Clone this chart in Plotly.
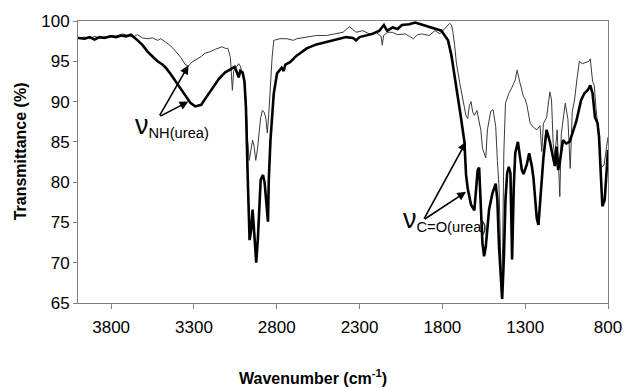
import plotly.graph_objects as go

# ---- data: thick trace (sample 1) ----
wn_thick = [4000, 3960, 3930, 3900, 3870, 3840, 3800, 3770, 3740, 3710, 3680, 3660, 3640, 3610,
            3580, 3550, 3520, 3490, 3470, 3440, 3411, 3380, 3351, 3320, 3292, 3256, 3230, 3196,
            3150, 3113, 3080, 3054, 3040, 3030, 3020, 3006, 2995, 2986, 2976, 2968, 2964, 2955,
            2946, 2936, 2924, 2914, 2907, 2897, 2883, 2873, 2861, 2853, 2848, 2838, 2818, 2798,
            2770, 2758, 2748, 2720, 2680, 2619, 2560, 2500, 2440, 2381, 2340, 2321, 2300, 2260,
            2222, 2180, 2153, 2140, 2133, 2100, 2070, 2044, 2000, 1964, 1930, 1885, 1845, 1806,
            1786, 1766, 1746, 1726, 1706, 1687, 1667, 1657, 1647, 1627, 1607, 1595, 1587, 1578,
            1568, 1558, 1548, 1538, 1518, 1498, 1478, 1468, 1458, 1449, 1439, 1429, 1419, 1409,
            1399, 1389, 1379, 1369, 1360, 1344, 1330, 1320, 1310, 1290, 1276, 1260, 1250, 1240,
            1230, 1220, 1210, 1200, 1190, 1171, 1151, 1131, 1121, 1111, 1101, 1091, 1072, 1052,
            1032, 1016, 992, 962, 943, 923, 907, 893, 879, 863, 854, 847, 834, 820, 808, 800]
t_thick = [97.9, 97.8, 98.0, 97.7, 98.0, 97.9, 98.1, 98.0, 98.2, 98.1, 98.3, 98.0, 97.6, 97.0,
           96.2, 95.6, 95.0, 94.6, 94.2, 93.4, 92.5, 91.6, 90.6, 89.8, 89.4, 89.6, 90.4, 91.4,
           92.8, 93.6, 94.0, 94.3, 93.6, 93.0, 93.8, 93.6, 92.5, 89.3, 81.1, 74.5, 72.8, 74.0,
           76.6, 73.7, 70.0, 73.0, 77.0, 80.3, 80.9, 79.9, 77.0, 75.1, 80.3, 85.2, 91.0, 93.5,
           94.2, 93.8, 94.6, 94.9, 95.7, 96.6, 97.1, 97.4, 97.7, 98.0, 97.9, 97.6, 98.0, 98.2,
           98.4, 98.8, 99.5, 99.0, 98.8, 99.2, 99.0, 99.5, 99.6, 99.8, 99.6, 99.3, 99.1, 98.8,
           98.2, 97.6, 95.8, 93.3, 90.8, 87.9, 85.0, 80.9, 79.2, 77.2, 76.5, 79.0, 81.5, 81.8,
           77.8, 72.4, 70.8, 72.0, 76.6, 78.6, 79.8, 77.8, 72.0, 68.3, 65.5, 70.4, 77.8, 81.1,
           81.9, 81.1, 70.4, 79.4, 83.6, 85.0, 83.2, 81.5, 81.0, 82.2, 83.6, 82.0, 80.5, 77.8,
           75.5, 74.7, 77.4, 80.5, 83.0, 86.5, 85.0, 83.0, 82.0, 84.4, 81.5, 82.5, 85.2, 84.8,
           85.0, 86.0, 87.5, 90.2, 91.0, 91.4, 92.0, 91.0, 88.1, 87.3, 85.6, 82.5, 77.0, 77.8, 81.5, 84.0]

# ---- data: thin trace (sample 2) ----
wn_thin = [4000, 3960, 3930, 3900, 3870, 3840, 3800, 3770, 3732, 3700, 3670, 3640, 3611, 3580,
           3550, 3520, 3500, 3472, 3440, 3413, 3380, 3353, 3333, 3313, 3280, 3255, 3234, 3200,
           3170, 3155, 3130, 3110, 3095, 3080, 3075, 3068, 3060, 3046, 3030, 3020, 3006, 2996,
           2986, 2976, 2966, 2956, 2946, 2937, 2927, 2917, 2907, 2897, 2887, 2877, 2867, 2857,
           2848, 2838, 2828, 2818, 2780, 2738, 2700, 2679, 2620, 2560, 2500, 2441, 2400, 2361,
           2340, 2321, 2280, 2242, 2200, 2170, 2163, 2155, 2130, 2103, 2070, 2024, 2000, 1975,
           1950, 1925, 1880, 1845, 1815, 1786, 1756, 1745, 1736, 1726, 1716, 1696, 1677, 1657,
           1647, 1637, 1627, 1617, 1607, 1591, 1578, 1568, 1558, 1548, 1538, 1528, 1518, 1508,
           1494, 1482, 1478, 1468, 1458, 1449, 1443, 1436, 1429, 1419, 1409, 1399, 1379, 1360,
           1349, 1340, 1330, 1310, 1300, 1290, 1270, 1250, 1230, 1210, 1200, 1190, 1171, 1151,
           1141, 1131, 1121, 1107, 1091, 1082, 1058, 1042, 1028, 1016, 1002, 988, 973, 955,
           933, 915, 907, 893, 883, 873, 854, 843, 824, 810, 800]
t_thin = [97.9, 98.0, 97.8, 98.1, 97.9, 98.0, 98.2, 98.1, 98.4, 98.2, 98.0, 98.3, 97.9, 97.8,
          97.9, 97.6, 97.8, 97.4, 96.9, 96.3, 95.5, 94.6, 94.4, 94.9, 95.3, 95.6, 96.0, 96.2,
          96.5, 96.6, 96.8, 96.6, 96.6, 95.5, 93.5, 91.4, 93.8, 94.3, 94.7, 94.4, 93.1, 92.5,
          90.2, 85.2, 82.7, 84.0, 85.2, 84.5, 82.7, 84.0, 86.1, 88.0, 88.9, 88.7, 88.1, 86.1,
          88.5, 92.2, 95.5, 97.6, 97.8, 97.8, 97.6, 97.8, 98.0, 98.2, 98.2, 98.4, 98.6, 99.3,
          98.9, 98.6, 98.8, 98.4, 98.6, 98.1, 97.0, 98.2, 98.6, 98.6, 98.3, 98.4, 98.1, 97.8,
          98.3, 98.4, 98.2, 98.8, 98.4, 99.1, 99.7, 99.5, 98.6, 97.0, 94.9, 92.4, 90.4, 88.2,
          87.9, 89.5, 90.0, 88.7, 88.3, 88.9, 87.5, 86.5, 84.2, 83.5, 83.0, 86.5, 87.5, 88.8,
          89.0, 87.5, 86.9, 82.7, 79.4, 72.0, 65.5, 72.0, 83.6, 89.8, 90.5, 91.0, 91.8, 92.7,
          93.9, 93.0, 92.2, 90.6, 90.3, 89.6, 87.3, 86.8, 86.5, 87.0, 83.8, 87.3, 88.0, 91.2,
          90.2, 84.8, 83.2, 86.5, 78.2, 86.0, 89.8, 87.8, 81.7, 88.7, 90.2, 92.7, 95.0, 94.7,
          94.9, 95.0, 95.3, 92.5, 92.0, 89.3, 85.5, 81.8, 82.1, 84.4, 85.6]

x_ticks = [3800, 3300, 2800, 2300, 1800, 1300, 800]
y_ticks = [65, 70, 75, 80, 85, 90, 95, 100]

FONT = "Liberation Sans, Arial, sans-serif"
AXC = "#808080"

fig = go.Figure()
fig.add_trace(go.Scatter(x=wn_thin, y=t_thin, mode="lines",
                         line=dict(color="#3a3a3a", width=1)))
fig.add_trace(go.Scatter(x=wn_thick, y=t_thick, mode="lines",
                         line=dict(color="#000000", width=2.6)))

fig.update_layout(
    width=634, height=388,
    margin=dict(l=78, r=18, t=21, b=85),
    plot_bgcolor="white", paper_bgcolor="white",
    showlegend=False,
    font=dict(family=FONT, color="black"),
)
fig.update_xaxes(range=[4000, 800], tickvals=x_ticks, ticktext=[str(v) for v in x_ticks],
                 ticks="outside", ticklen=5, tickcolor=AXC, showline=True, linecolor=AXC,
                 linewidth=1, mirror=True, showgrid=False, zeroline=False,
                 ticklabelstandoff=4,
                 tickfont=dict(size=17, family=FONT, color="black"))
fig.update_yaxes(range=[65, 100], tickvals=y_ticks,
                 ticks="outside", ticklen=4, tickcolor=AXC, showline=True, linecolor=AXC,
                 linewidth=1, mirror=True, showgrid=False, zeroline=False,
                 tickfont=dict(size=17, family=FONT, color="black"))

# axis titles
fig.add_annotation(text="<b>Wavenumber (cm<sup>-1</sup>)</b>", xref="paper", yref="paper",
                   x=0.4426, y=-0.262, showarrow=False, xanchor="center", yanchor="middle",
                   font=dict(size=16, family=FONT, color="black"))
fig.add_annotation(text="<b>Transmittance (%)</b>", xref="paper", yref="paper",
                   x=-0.108, y=0.537, showarrow=False, textangle=-90,
                   xanchor="center", yanchor="middle",
                   font=dict(size=16, family=FONT, color="black"))

# labels
NU = "<span style='font-size:27px'>ν</span>"
fig.add_annotation(text=NU + "<sub>NH(urea)</sub>", x=3430, y=87.0, xref="x", yref="y",
                   showarrow=False, font=dict(size=21, family=FONT, color="black"))
fig.add_annotation(text=NU + "<sub>C=O(urea)</sub>", x=1790, y=75.4, xref="x", yref="y",
                   showarrow=False, font=dict(size=21, family=FONT, color="black"))

# arrows
arrows = [((3333, 94.5), (3512, 88.1)), ((3333, 90.0), (3512, 88.1)),
          ((1657, 85.0), (1915, 75.3)), ((1657, 78.8), (1915, 75.3))]
for (hx, hy), (tx, ty) in arrows:
    fig.add_annotation(x=hx, y=hy, ax=tx, ay=ty, xref="x", yref="y", axref="x", ayref="y",
                       text="", showarrow=True, arrowhead=2, arrowsize=1.1,
                       arrowwidth=1.6, arrowcolor="black", standoff=0)

fig.write_html("out.html")
